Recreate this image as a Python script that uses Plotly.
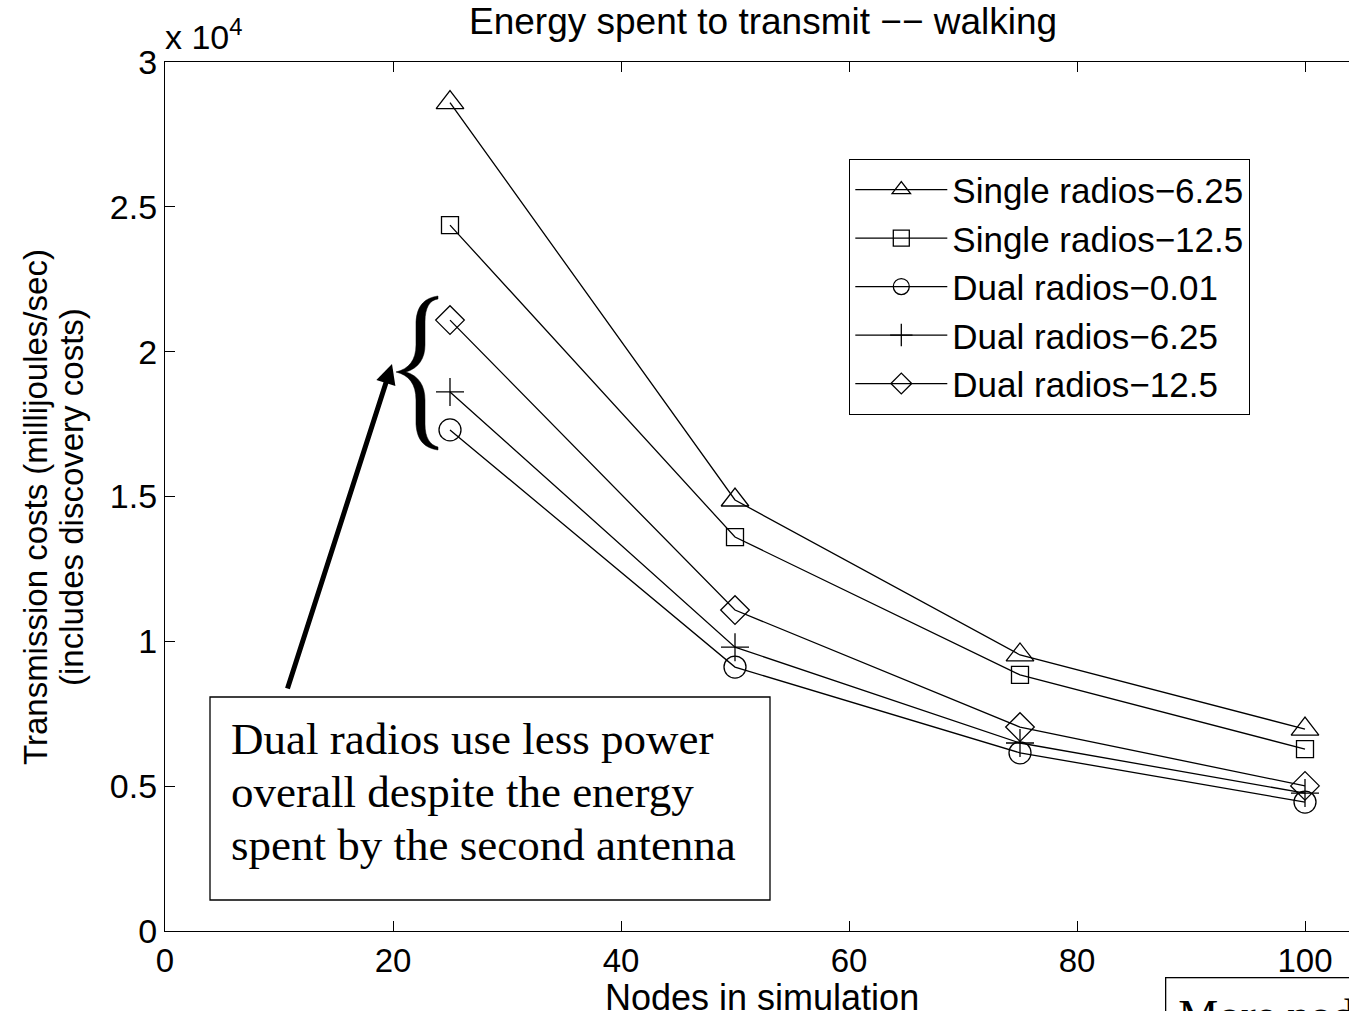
import plotly.graph_objects as go

# ---- data ----
nodes = [25, 50, 75, 100]
single_625 = [28600, 14880, 9530, 6970]
single_125 = [24370, 13600, 8840, 6280]
dual_001 = [17300, 9110, 6150, 4450]
dual_625 = [18610, 9800, 6490, 4760]
dual_125 = [21090, 11080, 7040, 5010]
series_names = ["Single radios\u22126.25", "Single radios\u221212.5", "Dual radios\u22120.01",
                "Dual radios\u22126.25", "Dual radios\u221212.5"]
y_tickvals = [0, 5000, 10000, 15000, 20000, 25000, 30000]
y_ticktext = ["0", "0.5", "1", "1.5", "2", "2.5", "3"]
x_tickvals = [0, 20, 40, 60, 80, 100]

W, H = 1349, 1011
L, T, B, R = 165, 62, 80, 0
PXU = 11.4  # pixels per x unit
XMAX = (W - L - R) / PXU


def px(x):
    return (x - L) / (W - L - R)


def py(y):
    return (H - B - y) / (H - B - T)


FONT = "Liberation Sans, Arial, sans-serif"
SERIF = "Liberation Serif, Times New Roman, serif"

fig = go.Figure()
symbols = ["triangle-up-open", "square-open", "circle-open", "cross-thin-open", "diamond-open"]
sizes = [24, 17, 22, 20, 22]
all_series = [single_625, single_125, dual_001, dual_625, dual_125]
for name, ys, sym, sz in zip(series_names, all_series, symbols, sizes):
    fig.add_trace(go.Scatter(
        x=nodes, y=ys, name=name, mode="lines+markers",
        line=dict(color="black", width=1.3),
        marker=dict(symbol=sym, size=sz, color="black", line=dict(color="black", width=1.3)),
    ))

# brace path (pixel coords -> paper)
brace_pts = [
    ("M", [(438, 296)]),
    ("C", [(425, 298), (417, 305), (416, 322)]),
    ("L", [(416, 345)]),
    ("C", [(416, 360), (409, 369), (396, 372)]),
    ("C", [(409, 375), (416, 384), (416, 400)]),
    ("L", [(416, 424)]),
    ("C", [(417, 441), (425, 448), (438, 450)]),
    ("L", [(438, 447)]),
    ("C", [(430, 445), (425, 438), (425, 424)]),
    ("L", [(425, 400)]),
    ("C", [(425, 386), (419, 376), (406, 372)]),
    ("C", [(419, 368), (425, 358), (425, 345)]),
    ("L", [(425, 322)]),
    ("C", [(425, 307), (430, 300), (438, 299)]),
]
path = ""
for cmd, pts in brace_pts:
    path += cmd + " " + " ".join(f"{px(a):.5f},{py(b):.5f}" for a, b in pts) + " "
path += "Z"

fig.add_shape(type="path", path=path, xref="paper", yref="paper",
              fillcolor="black", line=dict(color="black", width=0.5))

# text box frame
fig.add_shape(type="rect", xref="paper", yref="paper", x0=px(210), x1=px(770), y0=py(697), y1=py(900),
              line=dict(color="black", width=1.3), fillcolor="white", layer="above")

box_lines = ["Dual radios use less power", "overall despite the energy", "spent by the second antenna"]
box_line_y = [739, 792, 845]

annotations = [
    dict(text="Energy spent to transmit \u2212\u2212 walking", x=px(763), y=py(22), xref="paper", yref="paper",
         showarrow=False, font=dict(family=FONT, size=37, color="black"), xanchor="center", yanchor="middle"),
    dict(text="x 10<sup>4</sup>", x=px(163), y=py(58), xref="paper", yref="paper",
         showarrow=False, font=dict(family=FONT, size=34, color="black"), xanchor="left", yanchor="bottom"),
    dict(text="Nodes in simulation", x=px(762), y=py(997), xref="paper", yref="paper",
         showarrow=False, font=dict(family=FONT, size=36, color="black"), xanchor="center", yanchor="middle"),
    dict(text="Transmission costs (millijoules/sec)", x=px(35), y=py(507),
         xref="paper", yref="paper", textangle=-90, showarrow=False,
         font=dict(family=FONT, size=33, color="black"), xanchor="center", yanchor="middle"),
    dict(text="(includes discovery costs)", x=px(71), y=py(497),
         xref="paper", yref="paper", textangle=-90, showarrow=False,
         font=dict(family=FONT, size=33, color="black"), xanchor="center", yanchor="middle"),
    dict(text="More nodes", x=px(1165), y=py(977), xref="paper", yref="paper", showarrow=False,
         align="left", xanchor="left", yanchor="top", font=dict(family=SERIF, size=45, color="black"),
         bordercolor="black", borderwidth=1.3, borderpad=12, bgcolor="white"),
    dict(x=(392 - L) / PXU, y=(931 - 364) / 869 * 30000, xref="x", yref="y",
         ax=(287 - L) / PXU, ay=(931 - 690) / 869 * 30000, axref="x", ayref="y",
         showarrow=True, arrowhead=2, arrowsize=0.8, arrowwidth=5, arrowcolor="black", text=""),
]
for txt, yy in zip(box_lines, box_line_y):
    annotations.append(dict(text=txt, x=px(229), y=py(yy), xref="paper", yref="paper", showarrow=False,
                            xanchor="left", yanchor="middle", font=dict(family=SERIF, size=45, color="black")))

fig.update_layout(
    width=W, height=H,
    margin=dict(l=L, r=R, t=T, b=B),
    paper_bgcolor="white", plot_bgcolor="white",
    font=dict(family=FONT, size=34, color="black"),
    showlegend=True,
    legend=dict(x=px(849), y=py(159), xanchor="left", yanchor="top",
                bordercolor="black", borderwidth=1.3, bgcolor="white",
                font=dict(family=FONT, size=35, color="black"),
                tracegroupgap=0, itemwidth=92),
    annotations=annotations,
    xaxis=dict(range=[0, XMAX], tickvals=x_tickvals, ticks="inside", ticklen=10, tickcolor="black",
               showline=True, linecolor="black", linewidth=1.3, mirror="ticks", showgrid=False,
               zeroline=False, tickfont=dict(family=FONT, size=33, color="black")),
    yaxis=dict(range=[0, 30000], tickvals=y_tickvals, ticktext=y_ticktext, ticks="inside", ticklen=10,
               tickcolor="black", showline=True, linecolor="black", linewidth=1.3, mirror=False,
               showgrid=False, zeroline=False, tickfont=dict(family=FONT, size=34, color="black")),
)

fig.write_html("out.html")
